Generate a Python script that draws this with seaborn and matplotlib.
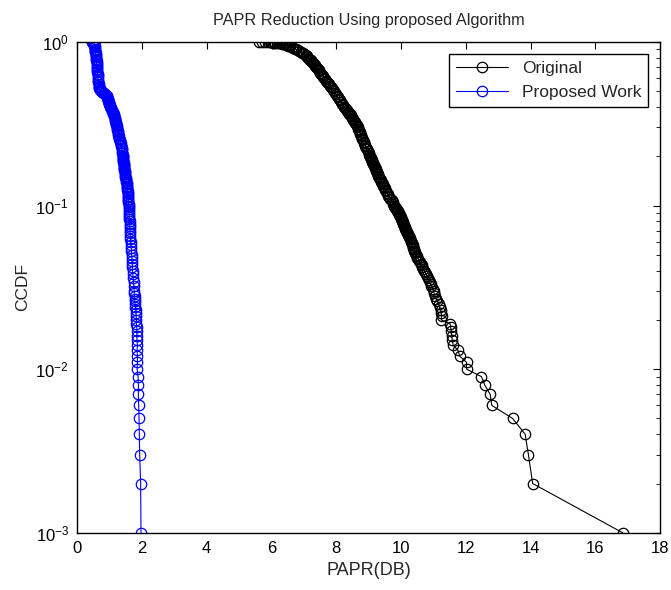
import matplotlib
matplotlib.use("Agg")
import matplotlib.pyplot as plt
import seaborn as sns
import pandas as pd
from matplotlib.lines import Line2D

# CCDF levels and PAPR (dB), top of each curve down to its tail
orig_ccdf = [0.999, 0.998, 0.997, 0.996, 0.995, 0.994, 0.993, 0.991, 0.99, 0.988, 0.985, 0.983, 0.98,
             0.975, 0.97, 0.965, 0.96, 0.955, 0.95, 0.945, 0.94, 0.93, 0.92, 0.91, 0.90, 0.89, 0.88,
             0.87, 0.86, 0.85, 0.84, 0.83, 0.82, 0.81, 0.80, 0.79, 0.78, 0.77, 0.76, 0.75, 0.74,
             0.73, 0.72, 0.71, 0.70, 0.69, 0.68, 0.67, 0.66, 0.65, 0.64, 0.63, 0.62, 0.61, 0.60,
             0.59, 0.58, 0.57, 0.56, 0.55, 0.54, 0.53, 0.52, 0.51, 0.50, 0.49, 0.48, 0.47, 0.46,
             0.45, 0.44, 0.43, 0.42, 0.41, 0.40,
             0.395, 0.39, 0.385, 0.38, 0.375, 0.37, 0.365, 0.36, 0.355, 0.35, 0.345, 0.34, 0.335,
             0.33, 0.325, 0.32, 0.315, 0.31, 0.305, 0.30, 0.295, 0.29, 0.285, 0.28, 0.275, 0.27,
             0.265, 0.26, 0.255, 0.25, 0.245, 0.24, 0.235, 0.23, 0.225, 0.22, 0.215, 0.21, 0.205, 0.20,
             0.1975, 0.195, 0.1925, 0.19, 0.1875, 0.185, 0.1825, 0.18, 0.1775, 0.175, 0.1725, 0.17,
             0.1675, 0.165, 0.1625, 0.16, 0.1575, 0.155, 0.1525, 0.15, 0.1475, 0.145, 0.1425, 0.14,
             0.1375, 0.135, 0.1325, 0.13, 0.1275, 0.125, 0.1225, 0.12, 0.1175, 0.115, 0.1125, 0.11,
             0.1075, 0.105, 0.1025, 0.10,
             0.099, 0.098, 0.097, 0.096, 0.095, 0.094, 0.093, 0.092, 0.091, 0.090, 0.089, 0.088,
             0.087, 0.086, 0.085, 0.084, 0.083, 0.082, 0.081, 0.080, 0.079, 0.078, 0.077, 0.076,
             0.075, 0.074, 0.073, 0.072, 0.071, 0.070, 0.069, 0.068, 0.067, 0.066, 0.065, 0.064,
             0.063, 0.062, 0.061, 0.060, 0.059, 0.058, 0.057, 0.056, 0.055, 0.054, 0.053, 0.052, 0.051,
             0.050, 0.049, 0.048, 0.047, 0.046, 0.045, 0.044, 0.043, 0.042, 0.041, 0.040, 0.039,
             0.038, 0.037, 0.036, 0.035, 0.034, 0.033, 0.032, 0.031, 0.030, 0.029, 0.028, 0.027,
             0.026, 0.025, 0.024, 0.023, 0.022, 0.021,
             0.020, 0.019, 0.018, 0.017, 0.016, 0.015, 0.014, 0.013, 0.012, 0.011, 0.010,
             0.009, 0.008, 0.007, 0.006, 0.005, 0.004, 0.003, 0.002, 0.001]
orig_papr = [5.60, 5.70, 5.80, 5.88, 5.95, 5.99, 6.02, 6.06, 6.08, 6.12, 6.18, 6.22, 6.28,
             6.33, 6.38, 6.42, 6.45, 6.48, 6.51, 6.54, 6.56, 6.62, 6.67, 6.72, 6.76, 6.81, 6.86,
             6.91, 6.95, 6.98, 7.01, 7.05, 7.08, 7.11, 7.13, 7.16, 7.18, 7.21, 7.23, 7.26, 7.28,
             7.31, 7.33, 7.35, 7.37, 7.40, 7.42, 7.45, 7.47, 7.50, 7.52, 7.55, 7.58, 7.60, 7.63,
             7.66, 7.69, 7.72, 7.75, 7.77, 7.80, 7.83, 7.86, 7.89, 7.92, 7.95, 7.98, 8.01, 8.04,
             8.08, 8.11, 8.15, 8.18, 8.22, 8.25,
             8.27, 8.29, 8.32, 8.34, 8.36, 8.38, 8.40, 8.42, 8.44, 8.46, 8.49, 8.51, 8.53,
             8.55, 8.57, 8.59, 8.61, 8.63, 8.65, 8.66, 8.68, 8.69, 8.71, 8.72, 8.74, 8.75,
             8.77, 8.78, 8.80, 8.82, 8.84, 8.86, 8.88, 8.90, 8.93, 8.95, 8.98, 9.00, 9.02, 9.04,
             9.05, 9.06, 9.08, 9.09, 9.10, 9.11, 9.12, 9.13, 9.15, 9.16, 9.18, 9.19,
             9.21, 9.22, 9.24, 9.25, 9.27, 9.28, 9.30, 9.31, 9.33, 9.35, 9.37, 9.39,
             9.41, 9.43, 9.45, 9.47, 9.49, 9.51, 9.54, 9.56, 9.59, 9.61, 9.64, 9.67,
             9.71, 9.74, 9.76, 9.78,
             9.79, 9.80, 9.82, 9.83, 9.85, 9.86, 9.88, 9.89, 9.91, 9.92, 9.94, 9.95,
             9.97, 9.98, 9.99, 10.00, 10.01, 10.02, 10.03, 10.04, 10.05, 10.06, 10.07, 10.08,
             10.10, 10.11, 10.12, 10.13, 10.15, 10.16, 10.18, 10.19, 10.21, 10.22, 10.24, 10.25,
             10.27, 10.28, 10.30, 10.31, 10.33, 10.34, 10.36, 10.37, 10.38, 10.39, 10.41, 10.42, 10.44,
             10.46, 10.48, 10.50, 10.53, 10.55, 10.58, 10.60, 10.63, 10.66, 10.69, 10.71, 10.74,
             10.77, 10.80, 10.83, 10.85, 10.88, 10.91, 10.93, 10.97, 11.00, 11.02, 11.05, 11.09,
             11.12, 11.16, 11.19, 11.22, 11.24, 11.25,
             11.24, 11.51, 11.53, 11.55, 11.56, 11.58, 11.61, 11.76, 11.81, 12.02, 12.02,
             12.48, 12.58, 12.75, 12.80, 13.44, 13.83, 13.93, 14.06, 16.84]

prop_ccdf = [0.999, 0.998, 0.996, 0.995, 0.993, 0.99, 0.985, 0.98, 0.97, 0.96, 0.95, 0.94,
             0.925, 0.91, 0.895, 0.88, 0.865, 0.85, 0.835, 0.82, 0.805, 0.79, 0.775, 0.76,
             0.745, 0.73, 0.715, 0.70, 0.685, 0.67, 0.655, 0.64, 0.625, 0.61, 0.595, 0.58,
             0.565, 0.55, 0.54, 0.53, 0.525, 0.52, 0.515, 0.51, 0.505, 0.50, 0.495, 0.49,
             0.485, 0.48, 0.475, 0.47, 0.465, 0.46, 0.455, 0.45, 0.445, 0.44, 0.435, 0.43,
             0.425, 0.42, 0.415, 0.41, 0.405, 0.40, 0.395, 0.39, 0.385, 0.38, 0.375, 0.37,
             0.365, 0.36, 0.355, 0.35, 0.345, 0.34, 0.335, 0.33, 0.325, 0.32, 0.315, 0.31,
             0.305, 0.30, 0.295, 0.29, 0.285, 0.28, 0.275, 0.27, 0.265, 0.26, 0.255, 0.25,
             0.245, 0.24, 0.235, 0.23, 0.225, 0.22, 0.215, 0.21, 0.205, 0.20,
             0.1975, 0.195, 0.1925, 0.19, 0.1875, 0.185, 0.1825, 0.18, 0.1775, 0.175, 0.1725, 0.17,
             0.1675, 0.165, 0.1625, 0.16, 0.1575, 0.155, 0.1525, 0.15, 0.1475, 0.145, 0.1425, 0.14,
             0.1375, 0.135, 0.1325, 0.13, 0.1275, 0.125, 0.1225, 0.12, 0.1175, 0.115, 0.1125, 0.11,
             0.1075, 0.105, 0.1025, 0.10, 0.0975, 0.095, 0.0925, 0.09, 0.0875, 0.085, 0.0825, 0.08,
             0.0775, 0.075, 0.0725, 0.07, 0.0675, 0.065, 0.0625, 0.06, 0.0575, 0.055, 0.0525,
             0.050, 0.048, 0.046, 0.044, 0.042, 0.040, 0.038, 0.036, 0.034, 0.032,
             0.030, 0.029, 0.028, 0.027, 0.026, 0.025, 0.024, 0.023, 0.022, 0.021,
             0.020, 0.019, 0.018, 0.017, 0.016, 0.015, 0.014, 0.013, 0.012, 0.011, 0.010,
             0.009, 0.008, 0.007, 0.006, 0.005, 0.004, 0.003, 0.002, 0.001]
prop_papr = [0.45, 0.47, 0.48, 0.49, 0.50, 0.51, 0.515, 0.52, 0.525, 0.53, 0.535, 0.54,
             0.545, 0.55, 0.555, 0.56, 0.565, 0.57, 0.575, 0.58, 0.585, 0.59, 0.595, 0.60,
             0.60, 0.60, 0.605, 0.61, 0.615, 0.62, 0.625, 0.63, 0.635, 0.64, 0.645, 0.65,
             0.655, 0.66, 0.66, 0.66, 0.67, 0.68, 0.69, 0.71, 0.73, 0.75, 0.78, 0.81,
             0.84, 0.87, 0.89, 0.91, 0.92, 0.93, 0.935, 0.94, 0.95, 0.96, 0.965, 0.97,
             0.98, 0.99, 0.995, 1.00, 1.01, 1.02, 1.035, 1.05, 1.065, 1.08, 1.095, 1.11,
             1.12, 1.13, 1.14, 1.15, 1.155, 1.16, 1.17, 1.18, 1.185, 1.19, 1.20, 1.21,
             1.22, 1.23, 1.235, 1.24, 1.25, 1.26, 1.265, 1.27, 1.28, 1.29, 1.30, 1.31,
             1.325, 1.34, 1.35, 1.36, 1.37, 1.38, 1.385, 1.39, 1.40, 1.41,
             1.41, 1.41, 1.415, 1.42, 1.425, 1.43, 1.435, 1.44, 1.445, 1.45, 1.45, 1.45,
             1.455, 1.46, 1.465, 1.47, 1.475, 1.48, 1.485, 1.49, 1.495, 1.50, 1.51, 1.52,
             1.525, 1.53, 1.535, 1.54, 1.545, 1.55, 1.555, 1.56, 1.56, 1.56, 1.565, 1.57,
             1.575, 1.58, 1.585, 1.59, 1.595, 1.60, 1.60, 1.60, 1.605, 1.61, 1.615, 1.62,
             1.62, 1.62, 1.625, 1.63, 1.635, 1.64, 1.645, 1.65, 1.66, 1.67, 1.675,
             1.68, 1.69, 1.69, 1.70, 1.70, 1.71, 1.72, 1.73, 1.74, 1.75,
             1.76, 1.76, 1.77, 1.78, 1.78, 1.79, 1.80, 1.81, 1.82, 1.82,
             1.83, 1.83, 1.84, 1.85, 1.84, 1.85, 1.86, 1.85, 1.86, 1.86, 1.85,
             1.88, 1.89, 1.89, 1.90, 1.91, 1.92, 1.93, 1.96, 1.97]

series_names = ["Original", "Proposed Work"]
series_colors = ["black", "blue"]

df = pd.concat([
    pd.DataFrame({"papr": orig_papr, "ccdf": orig_ccdf, "series": series_names[0]}),
    pd.DataFrame({"papr": prop_papr, "ccdf": prop_ccdf, "series": series_names[1]}),
])

sns.set_style("white")
plt.rcParams["font.family"] = ["Liberation Sans", "DejaVu Sans"]
plt.rcParams["mathtext.default"] = "regular"

fig = plt.figure(figsize=(6.71, 5.90), dpi=100)
ax = fig.add_axes([0.115, 0.097, 0.869, 0.832])

for name, col in zip(series_names, series_colors):
    sns.lineplot(data=df[df["series"] == name], x="papr", y="ccdf", color=col,
                 sort=False, estimator=None, marker="o", markersize=7.5,
                 markerfacecolor="none", markeredgecolor=col, markeredgewidth=0.9,
                 linewidth=0.8, ax=ax, legend=False)

ax.set_yscale("log")
ax.set_xlim(0, 18)
ax.set_ylim(1e-3, 1)
ax.set_xticks(range(0, 19, 2))

for sp in ax.spines.values():
    sp.set_color("black")
    sp.set_linewidth(1.0)
ax.tick_params(which="both", direction="in", top=True, right=True, colors="black",
               labelsize=12, pad=6)
ax.tick_params(which="major", length=5, width=0.8)
ax.tick_params(which="minor", length=3, width=0.6)

ax.set_title("PAPR Reduction Using proposed Algorithm", fontsize=11.7, pad=12.5)
ax.set_xlabel("PAPR(DB)", fontsize=13)
ax.set_ylabel("CCDF", fontsize=12.5)

handles = [Line2D([], [], color=c, marker="o", markersize=7.5, markerfacecolor="none",
                  markeredgecolor=c, markeredgewidth=0.9, linewidth=0.8)
           for c in series_colors]
leg = ax.legend(handles, series_names, loc="upper right", numpoints=1, fancybox=False,
                framealpha=1, edgecolor="black", fontsize=12.5, handlelength=3.0,
                borderaxespad=0.7)
leg.get_frame().set_linewidth(1.0)

fig.savefig("out.png", dpi=100, facecolor="white")
